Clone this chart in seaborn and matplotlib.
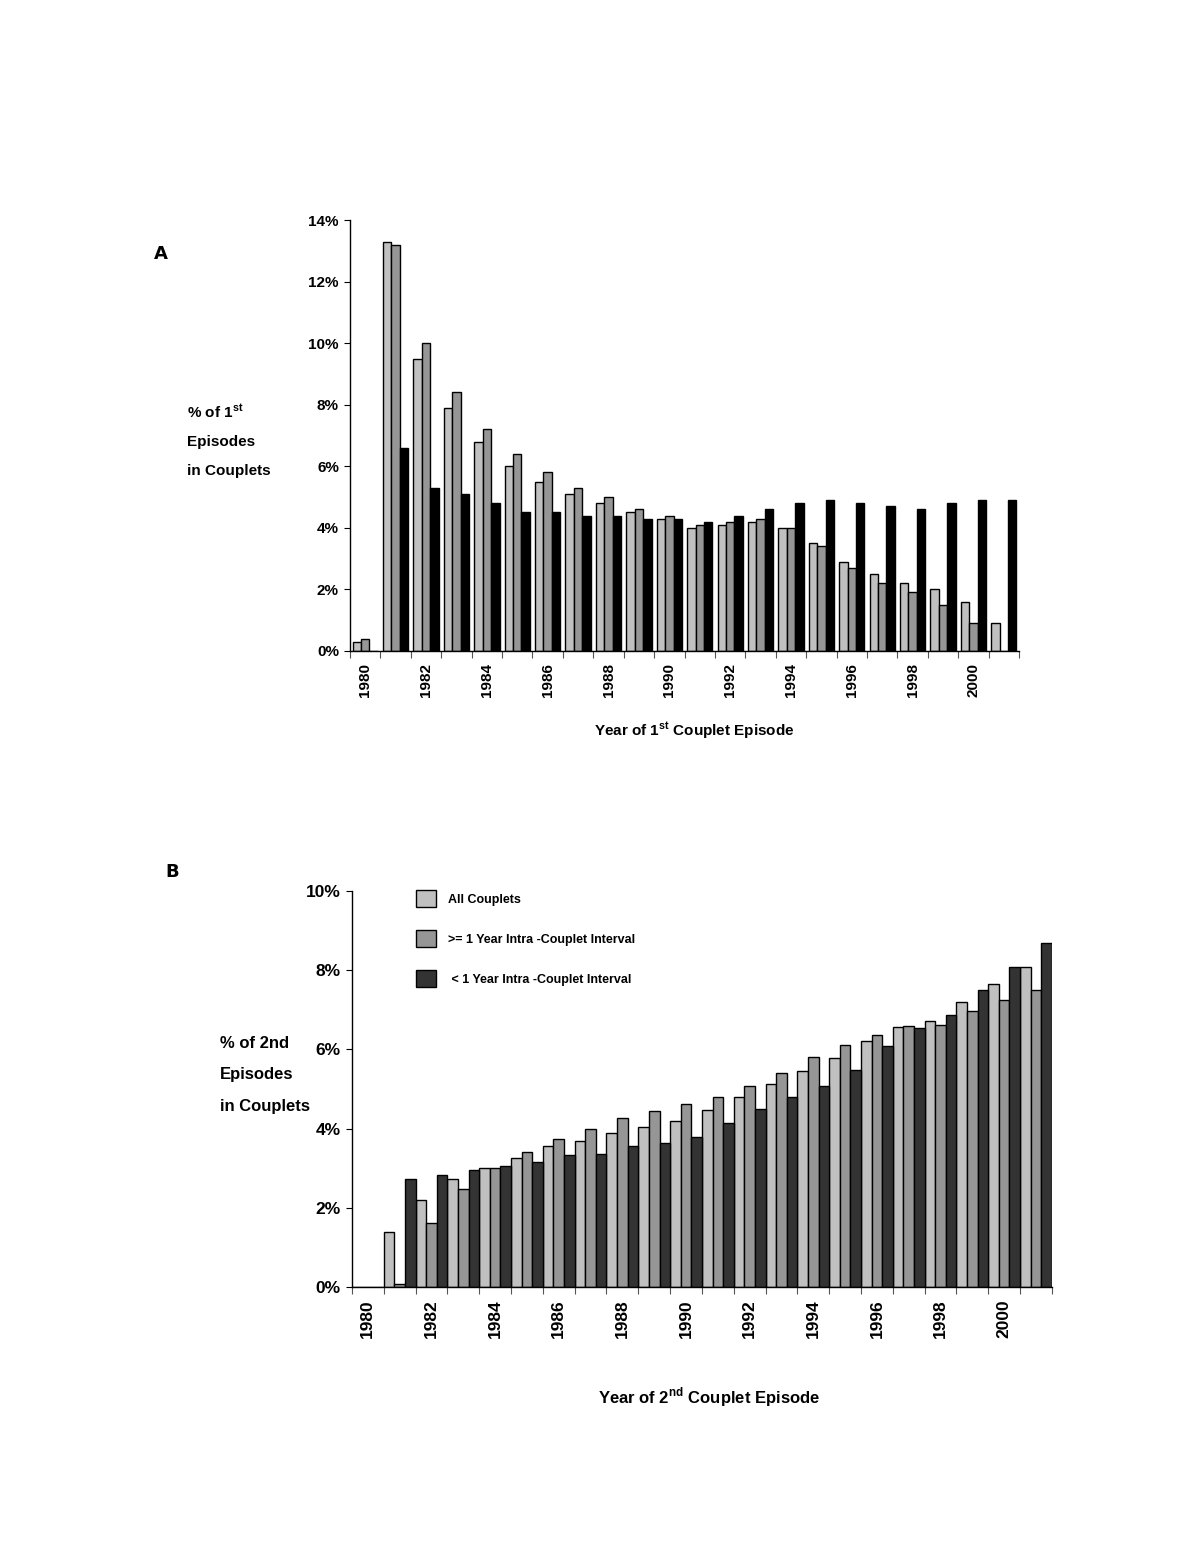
import numpy as np
import pandas as pd
import matplotlib
matplotlib.use("Agg")
import matplotlib.pyplot as plt
import seaborn as sns
from matplotlib.ticker import PercentFormatter

years = [str(y) for y in range(1980, 2002)]
series = ["All Couplets", ">= 1 Year Intra -Couplet Interval", " < 1 Year Intra -Couplet Interval"]

# panel A: % of 1st episodes in couplets
first_all = [0.3, 13.3, 9.5, 7.9, 6.8, 6.0, 5.5, 5.1, 4.8, 4.5, 4.3, 4.0, 4.1, 4.2, 4.0, 3.5, 2.9, 2.5, 2.2, 2.0, 1.6, 0.9]
first_long = [0.4, 13.2, 10.0, 8.4, 7.2, 6.4, 5.8, 5.3, 5.0, 4.6, 4.4, 4.1, 4.2, 4.3, 4.0, 3.4, 2.7, 2.2, 1.9, 1.5, 0.9, 0.0]
first_short = [0.0, 6.6, 5.3, 5.1, 4.8, 4.5, 4.5, 4.4, 4.4, 4.3, 4.3, 4.2, 4.4, 4.6, 4.8, 4.9, 4.8, 4.7, 4.6, 4.8, 4.9, 4.9]

# panel B: % of 2nd episodes in couplets
second_all = [0.0, 1.38, 2.21, 2.72, 3.01, 3.27, 3.56, 3.69, 3.90, 4.05, 4.20, 4.46, 4.79, 5.13, 5.45, 5.79, 6.22, 6.57, 6.73, 7.21, 7.66, 8.09]
second_long = [0.0, 0.08, 1.61, 2.47, 3.00, 3.42, 3.75, 4.00, 4.27, 4.44, 4.63, 4.79, 5.07, 5.40, 5.82, 6.10, 6.36, 6.60, 6.62, 6.96, 7.26, 7.51]
second_short = [0.0, 2.72, 2.84, 2.96, 3.06, 3.16, 3.33, 3.36, 3.56, 3.64, 3.79, 4.13, 4.50, 4.81, 5.07, 5.49, 6.08, 6.54, 6.87, 7.51, 8.08, 8.70]

colors_a = ["#c0c0c0", "#969696", "#000000"]
colors_b = ["#c0c0c0", "#969696", "#333333"]

sns.set_style("white")
plt.rcParams["font.family"] = ["Liberation Sans", "DejaVu Sans"]
plt.rcParams["font.weight"] = "bold"
plt.rcParams["text.color"] = "black"
plt.rcParams["xtick.color"] = "black"
plt.rcParams["ytick.color"] = "black"
plt.rcParams["mathtext.fontset"] = "custom"
plt.rcParams["mathtext.rm"] = "Liberation Sans:bold"
plt.rcParams["mathtext.bf"] = "Liberation Sans:bold"


def long_df(a, b, c):
    rows = []
    for name, vals in zip(series, [a, b, c]):
        for y, v in zip(years, vals):
            rows.append({"year": y, "pct": v, "series": name})
    return pd.DataFrame(rows)


def draw_panel(ax, df, palette, width, ymax, fs_tick, legend):
    sns.barplot(data=df, x="year", y="pct", hue="series", hue_order=series,
                palette=palette, width=width, gap=0, saturation=1,
                edgecolor="black", linewidth=1.0, errorbar=None,
                legend=legend, ax=ax)
    ax.set_xlim(-0.5, len(years) - 0.5)
    ax.set_ylim(0, ymax)
    ax.yaxis.set_major_formatter(PercentFormatter(xmax=100, decimals=0))
    ax.set_yticks(np.arange(0, ymax + 0.01, 2))
    ax.set_xticks(range(0, len(years), 2), [years[i] for i in range(0, len(years), 2)],
                  rotation=90)
    ax.set_xticks(np.arange(-0.5, len(years)), minor=True)
    ax.tick_params(axis="x", which="major", length=0, pad=9, labelsize=fs_tick, colors="black")
    ax.tick_params(axis="x", which="minor", length=5, width=0.8, direction="out", color="#555555", bottom=True)
    ax.tick_params(axis="y", length=4, width=0.8, direction="out", pad=4, labelsize=fs_tick,
                   left=True, colors="black")
    for lab in ax.get_xticklabels() + ax.get_yticklabels():
        lab.set_fontweight("bold")
    sns.despine(ax=ax)
    for s in ["left", "bottom"]:
        ax.spines[s].set_linewidth(1.0)
        ax.spines[s].set_color("black")
    ax.set_xlabel("")
    ax.set_ylabel("")


fig = plt.figure(figsize=(12, 15.54), dpi=100)

ax_a = fig.add_axes([0.2917, 0.5811, 0.5575, 0.2773])
draw_panel(ax_a, long_df(first_all, first_long, first_short), colors_a, 0.83, 14, 11, False)

ax_b = fig.add_axes([0.2933, 0.1718, 0.5833, 0.2548])
draw_panel(ax_b, long_df(second_all, second_long, second_short), colors_b, 1.0, 10, 12.5, True)

leg = ax_b.legend(loc="upper left", bbox_to_anchor=(0.076, 1.03), frameon=False,
                  fontsize=9, handlelength=1.6, handleheight=1.7, labelspacing=1.85,
                  handletextpad=0.9)
for t in leg.get_texts():
    t.set_fontweight("bold")
    t.set_color("black")
for h in leg.legend_handles:
    h.set_edgecolor("black")
    h.set_linewidth(1.0)

# axis titles
fig.text(694 / 1200, 1 - 731 / 1554, r"Year of 1$^{\mathbf{st}}$ Couplet Episode",
         ha="center", va="center", fontsize=11, fontweight="bold")
fig.text(709 / 1200, 1 - 1397 / 1554, r"Year of 2$^{\mathbf{nd}}$ Couplet Episode",
         ha="center", va="center", fontsize=12, fontweight="bold")

for txt, y in [(r"% of 1$^{\mathbf{st}}$", 412), ("Episodes", 442), ("in Couplets", 471)]:
    fig.text(187 / 1200, 1 - y / 1554, txt, ha="left", va="center", fontsize=11, fontweight="bold")
for txt, y in [("% of 2nd", 1043), ("Episodes", 1075), ("in Couplets", 1107)]:
    fig.text(220 / 1200, 1 - y / 1554, txt, ha="left", va="center", fontsize=12, fontweight="bold")

fig.text(161 / 1200, 1 - 254 / 1554, "A", ha="center", va="center", fontsize=13,
         fontweight="bold", family="DejaVu Sans")
fig.text(172 / 1200, 1 - 872 / 1554, "B", ha="center", va="center", fontsize=13,
         fontweight="bold", family="DejaVu Sans")

fig.savefig("out.png", dpi=100)
